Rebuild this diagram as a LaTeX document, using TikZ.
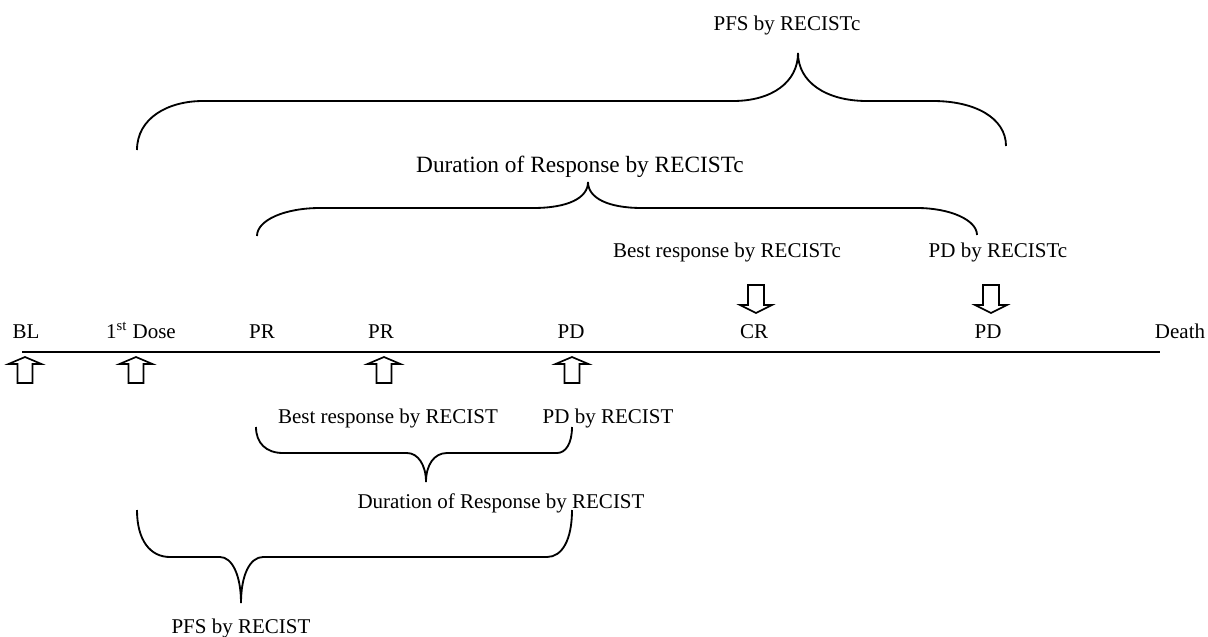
\documentclass[tikz,border=0pt]{standalone}
\usepackage{fontspec}
\setmainfont{Liberation Serif}

\begin{document}
\begin{tikzpicture}[x=0.6pt, y=-0.6pt, font=\fontsize{12.6}{15}\selectfont,
  brace/.style={black, line width=1.1pt},
  uparrow/.style={draw=black, line width=1pt, fill=white},
  lbl/.style={anchor=base, inner sep=0pt}]
\useasboundingbox (0,0) rectangle (1208,636);

% time line
\draw [black, line width=1.2pt] (22,352) -- (1160,352);

\node[lbl] (bl)    at (26,338)   {BL};
\node[lbl] (dose)  at (141,338)  {1\textsuperscript{st} Dose};
\node[lbl] (prA)   at (262,338)  {PR};
\node[lbl] (prB)   at (381,338)  {PR};
\node[lbl] (pdA)   at (571,338)  {PD};
\node[lbl] (cr)    at (754,338)  {CR};
\node[lbl] (pdB)   at (988,338)  {PD};
\node[lbl] (death) at (1180,338) {Death};

% up arrows below the line
\draw[uparrow, shift={(25,0)}]  (-7.5,383) -- (-7.5,364) -- (-16.5,364) -- (0,357) -- (16.5,364) -- (7.5,364) -- (7.5,383) -- cycle;
\draw[uparrow, shift={(136,0)}] (-7.5,383) -- (-7.5,364) -- (-16.5,364) -- (0,357) -- (16.5,364) -- (7.5,364) -- (7.5,383) -- cycle;
\draw[uparrow, shift={(384,0)}] (-7.5,383) -- (-7.5,364) -- (-16.5,364) -- (0,357) -- (16.5,364) -- (7.5,364) -- (7.5,383) -- cycle;
\draw[uparrow, shift={(572,0)}] (-7.5,383) -- (-7.5,364) -- (-16.5,364) -- (0,357) -- (16.5,364) -- (7.5,364) -- (7.5,383) -- cycle;

% down arrows above the line
\draw[uparrow, shift={(756,0)}] (-8,285) -- (8,285) -- (8,305) -- (16,305) -- (0,313) -- (-16,305) -- (-8,305) -- cycle;
\draw[uparrow, shift={(991,0)}] (-8,285) -- (8,285) -- (8,305) -- (16,305) -- (0,313) -- (-16,305) -- (-8,305) -- cycle;

% RECISTc, above
\node[lbl] (pfsc)  at (787,30)  {PFS by RECISTc};
\node[lbl, font=\fontsize{14}{16}\selectfont] (dorc) at (580,172) {Duration of Response by RECISTc};
\node[lbl] (bestc) at (727,257) {Best response by RECISTc};
\node[lbl] (pdc)   at (998,257) {PD by RECISTc};

\draw[brace] (137,150) .. controls (137,118) and (168,101) .. (203,101) -- (733,101)
  .. controls (772,101) and (798,82) .. (798,53)
  .. controls (798,82) and (826,101) .. (867,101) -- (933,101)
  .. controls (975,101) and (1006,118) .. (1006,146);

\draw[brace] (257,236) .. controls (257,220) and (285,208) .. (320,208) -- (533,208)
  .. controls (568,208) and (588,198) .. (588,182)
  .. controls (588,198) and (608,208) .. (642,208) -- (917,208)
  .. controls (950,208) and (977,220) .. (977,235);

% RECIST, below
\node[lbl] (best) at (388,423) {Best response by RECIST};
\node[lbl] (pd)   at (608,423) {PD by RECIST};
\node[lbl] (dor)  at (501,508) {Duration of Response by RECIST};
\node[lbl] (pfs)  at (241,633) {PFS by RECIST};

\draw[brace] (256,427) .. controls (256,443) and (266,453) .. (283,453) -- (407,453)
  .. controls (418,453) and (426,465) .. (426,482)
  .. controls (426,465) and (434,453) .. (447,453) -- (557,453)
  .. controls (566,453) and (572,443) .. (572,427);

\draw[brace] (137,510) .. controls (137,540) and (150,557) .. (170,557) -- (220,557)
  .. controls (232,557) and (241,575) .. (241,603)
  .. controls (241,575) and (250,557) .. (263,557) -- (547,557)
  .. controls (562,557) and (572,540) .. (572,510);
\end{tikzpicture}
\end{document}
